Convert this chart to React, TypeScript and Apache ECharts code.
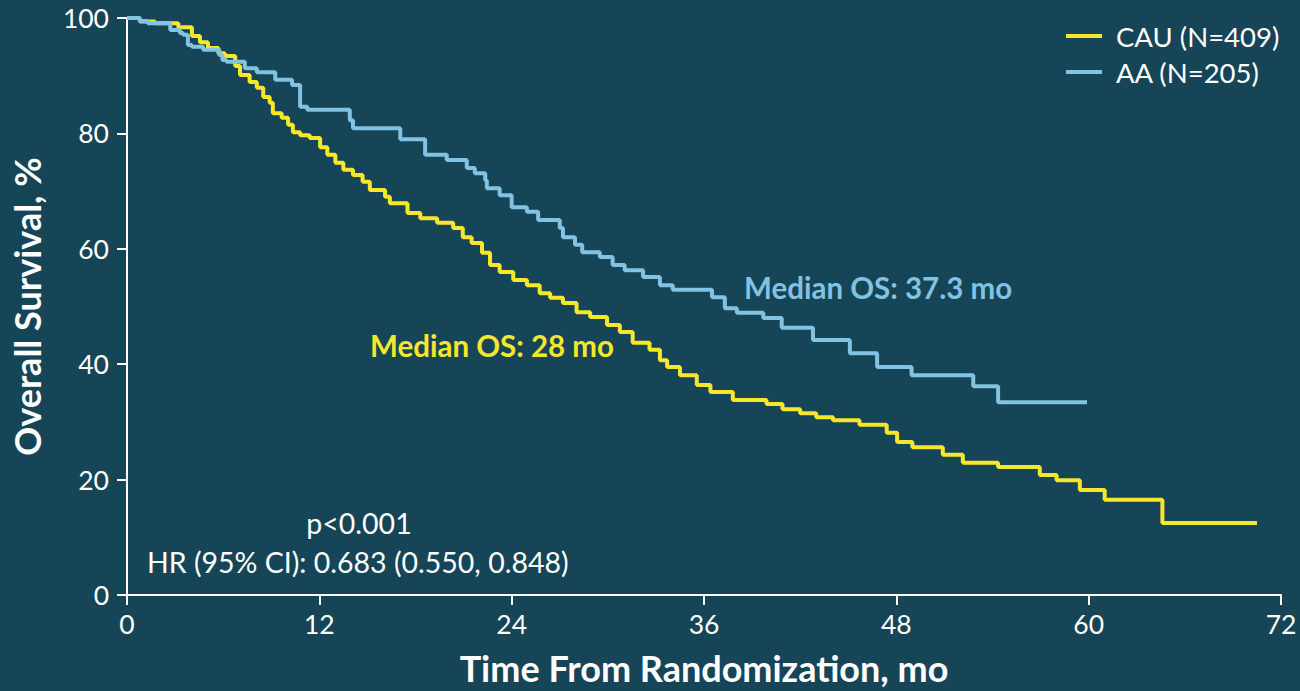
import React, { useEffect, useRef } from "react";
import * as echarts from "echarts";

// Kaplan-Meier steps: [month, survival %], value holds until next point
const cauCurve: [number, number][] = [
  [0, 100], [0.8, 99.4], [1.75, 99.1], [3.2, 98.4], [4.05, 96.9], [4.55, 95.8],
  [5.05, 94.8], [5.7, 93.9], [6.1, 93.4], [6.75, 91.7], [7.05, 90.1], [7.65, 88.9],
  [8.1, 87.9], [8.5, 86.3], [8.9, 85.3], [9.1, 83.5], [9.65, 82.7], [10.05, 81.5],
  [10.35, 80.2], [10.8, 79.7], [11.4, 79.2], [12.05, 77.6], [12.5, 76.3], [13.0, 74.9],
  [13.5, 73.7], [14.1, 72.8], [14.7, 71.6], [15.15, 70.2], [16.1, 69.0], [16.4, 67.9],
  [17.5, 66.2], [18.3, 65.3], [19.35, 64.5], [20.35, 63.6], [20.95, 62.0], [21.5, 61.0],
  [22.15, 59.3], [22.65, 57.2], [23.25, 56.0], [24.1, 54.6], [24.95, 53.7], [25.75, 52.3],
  [26.4, 51.5], [27.2, 50.6], [28.05, 49.0], [28.9, 48.2], [29.95, 46.8], [30.75, 45.6],
  [31.55, 43.7], [32.6, 42.5], [33.25, 40.7], [33.7, 39.5], [34.5, 38.1], [35.55, 36.4],
  [36.4, 35.2], [37.8, 33.8], [39.9, 33.1], [40.9, 32.2], [42.0, 31.5], [43.0, 30.8],
  [44.05, 30.3], [45.7, 29.5], [47.4, 28.1], [48.05, 26.5], [49.0, 25.6], [50.9, 24.3],
  [52.15, 22.9], [54.35, 22.2], [56.95, 20.8], [58.0, 19.9], [59.45, 18.2], [61.0, 16.5],
  [64.6, 12.5], [70.5, 12.5],
];

const aaCurve: [number, number][] = [
  [0, 100], [0.8, 99.5], [1.3, 99.1], [2.7, 97.9], [3.3, 97.4], [3.5, 97.1],
  [3.8, 95.3], [4.05, 95.0], [4.75, 94.5], [5.75, 93.6], [5.95, 92.7], [6.2, 92.4],
  [7.35, 91.3], [8.1, 90.6], [9.25, 89.3], [10.3, 88.4], [10.8, 84.6], [11.25, 84.1],
  [13.9, 82.3], [14.1, 80.9], [17.05, 79.0], [18.6, 76.3], [19.95, 75.4], [21.2, 74.0],
  [21.7, 73.1], [22.35, 71.9], [22.45, 70.5], [23.25, 69.3], [24.0, 67.2], [24.95, 66.4],
  [25.65, 65.0], [27.0, 63.6], [27.2, 62.0], [27.95, 60.7], [28.4, 59.4], [29.5, 58.6],
  [30.3, 57.2], [31.05, 56.3], [32.2, 55.1], [33.25, 53.7], [34.05, 52.9], [36.5, 51.6],
  [37.3, 49.7], [38.05, 48.9], [39.7, 48.0], [40.85, 46.3], [42.8, 44.2], [45.1, 41.9],
  [46.8, 39.5], [48.95, 38.1], [52.8, 36.2], [54.35, 33.4], [59.9, 33.4],
];

const seriesNames = ["CAU (N=409)", "AA (N=205)"];
const xTicks = { min: 0, max: 72, interval: 12 };
const yTicks = { min: 0, max: 100, interval: 20 };
const xTitle = "Time From Randomization, mo";
const yTitle = "Overall Survival, %";
const medianCau = "Median OS: 28 mo";
const medianAa = "Median OS: 37.3 mo";
const pText = "p<0.001";
const hrText = "HR (95% CI): 0.683 (0.550, 0.848)";

const BG = "#164557";
const YELLOW = "#f6e72a";
const BLUE = "#82c2e2";
const FONT = "Lato, 'Noto Sans', sans-serif";

export default function App() {
  const ref = useRef<HTMLDivElement>(null);
  useEffect(() => {
    if (!ref.current) return;
    const chart = echarts.init(ref.current, null, { renderer: "svg" });
    const axisCommon = {
      axisLine: { show: true, lineStyle: { color: "#ffffff", width: 2 } },
      axisTick: { show: true, length: 10, lineStyle: { color: "#ffffff", width: 2 } },
      splitLine: { show: false },
      nameLocation: "middle" as const,
      nameTextStyle: { color: "#ffffff", fontSize: 36, fontWeight: "bold" as const, fontFamily: FONT },
    };
    chart.setOption({
      animation: false,
      backgroundColor: BG,
      textStyle: { fontFamily: FONT },
      grid: { left: 127, right: 19, top: 18, bottom: 96, containLabel: false },
      legend: {
        orient: "vertical",
        left: 1061,
        top: 17,
        itemWidth: 36,
        itemHeight: 4,
        itemGap: 8,
        icon: "rect",
        data: seriesNames,
        textStyle: { color: "#ffffff", fontSize: 27.5, lineHeight: 28, fontFamily: FONT, padding: [0, 0, 0, 9] },
      },
      xAxis: {
        type: "value",
        ...xTicks,
        ...axisCommon,
        name: xTitle,
        nameGap: 55,
        axisLabel: { color: "#ffffff", fontSize: 26.5, margin: 15, fontFamily: FONT },
      },
      yAxis: {
        type: "value",
        ...yTicks,
        ...axisCommon,
        name: yTitle,
        nameGap: 82,
        nameRotate: 90,
        axisLabel: { color: "#ffffff", fontSize: 26.5, margin: 18, fontFamily: FONT },
      },
      series: [
        {
          name: seriesNames[0],
          type: "line",
          step: "end",
          showSymbol: false,
          symbol: "none",
          data: cauCurve,
          lineStyle: { color: YELLOW, width: 4 },
          itemStyle: { color: YELLOW },
        },
        {
          name: seriesNames[1],
          type: "line",
          step: "end",
          showSymbol: false,
          symbol: "none",
          data: aaCurve,
          lineStyle: { color: BLUE, width: 4 },
          itemStyle: { color: BLUE },
        },
      ],
      graphic: [
        {
          type: "text", x: 370, y: 345,
          style: { text: medianCau, fill: YELLOW, fontSize: 29.5, fontWeight: "bold", fontFamily: FONT, verticalAlign: "middle" },
        },
        {
          type: "text", x: 744, y: 287,
          style: { text: medianAa, fill: BLUE, fontSize: 29.5, fontWeight: "bold", fontFamily: FONT, verticalAlign: "middle" },
        },
        {
          type: "text", x: 359, y: 523,
          style: { text: pText, fill: "#ffffff", fontSize: 28.5, fontFamily: FONT, align: "center", verticalAlign: "middle" },
        },
        {
          type: "text", x: 147, y: 562,
          style: { text: hrText, fill: "#ffffff", fontSize: 28.5, fontFamily: FONT, verticalAlign: "middle" },
        },
      ],
    });
    return () => chart.dispose();
  }, []);
  return (
    <div
      ref={ref}
      style={{ position: "fixed", left: 0, top: 0, width: 1300, height: 691 }}
    />
  );
}
